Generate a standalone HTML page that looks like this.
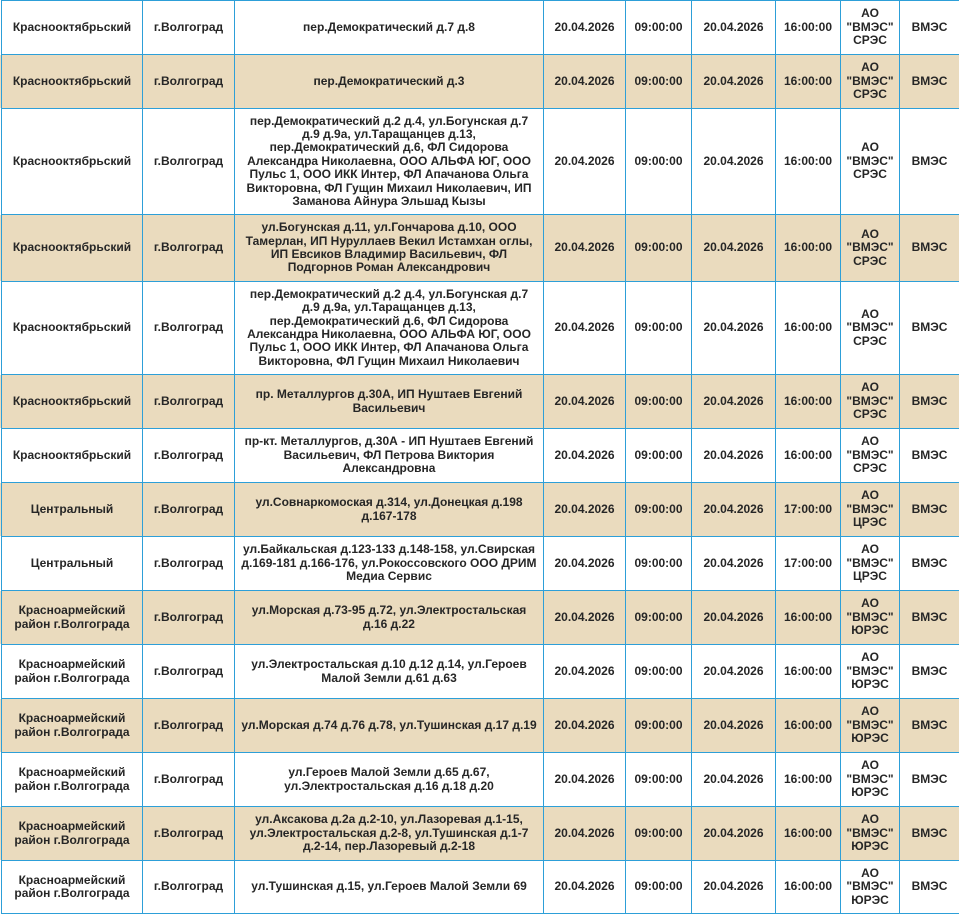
<!DOCTYPE html>
<html lang="ru">
<head>
<meta charset="utf-8">
<style>
html,body{margin:0;padding:0;}
body{width:959px;height:914px;overflow:hidden;background:#fff;position:relative;
font-family:"Liberation Sans","Noto Sans CJK SC",sans-serif;font-size:12px;font-weight:bold;color:#262626;}
.r{position:absolute;left:0;width:959px;}
.w{background:#fff;}
.b{background:#eadbbe;}
.c{position:absolute;top:0;height:100%;display:flex;align-items:center;justify-content:center;text-align:center;line-height:13.4px;white-space:nowrap;}
.c1{left:2px;width:140px}
.c2{left:143px;width:91px}
.c3{left:235px;width:308px}
.c4{left:544px;width:81px}
.c5{left:626px;width:65px}
.c6{left:692px;width:83px}
.c7{left:776px;width:64px}
.c8{left:841px;width:58px}
.c9{left:900px;width:59px}
.h{position:absolute;left:1px;width:958px;height:1px;background:#2d9fd8;}
.v{position:absolute;top:0;width:1px;height:914px;background:#2d9fd8;}
</style>
</head>
<body>

<div class="r w" style="top:1px;height:53px">
<div class="c c1">Краснооктябрьский</div><div class="c c2">г.Волгоград</div>
<div class="c c3">пер.Демократический д.7 д.8</div>
<div class="c c4">20.04.2026</div><div class="c c5">09:00:00</div><div class="c c6">20.04.2026</div><div class="c c7">16:00:00</div>
<div class="c c8">АО<br>"ВМЭС"<br>СРЭС</div><div class="c c9">ВМЭС</div>
</div>

<div class="r b" style="top:55px;height:53px">
<div class="c c1">Краснооктябрьский</div><div class="c c2">г.Волгоград</div>
<div class="c c3">пер.Демократический д.3</div>
<div class="c c4">20.04.2026</div><div class="c c5">09:00:00</div><div class="c c6">20.04.2026</div><div class="c c7">16:00:00</div>
<div class="c c8">АО<br>"ВМЭС"<br>СРЭС</div><div class="c c9">ВМЭС</div>
</div>

<div class="r w" style="top:109px;height:105px">
<div class="c c1">Краснооктябрьский</div><div class="c c2">г.Волгоград</div>
<div class="c c3">пер.Демократический д.2 д.4, ул.Богунская д.7<br>д.9 д.9а, ул.Таращанцев д.13,<br>пер.Демократический д.6, ФЛ Сидорова<br>Александра Николаевна, ООО АЛЬФА ЮГ, ООО<br>Пульс 1, ООО ИКК Интер, ФЛ Апачанова Ольга<br>Викторовна, ФЛ Гущин Михаил Николаевич, ИП<br>Заманова Айнура Эльшад Кызы</div>
<div class="c c4">20.04.2026</div><div class="c c5">09:00:00</div><div class="c c6">20.04.2026</div><div class="c c7">16:00:00</div>
<div class="c c8">АО<br>"ВМЭС"<br>СРЭС</div><div class="c c9">ВМЭС</div>
</div>

<div class="r b" style="top:215px;height:66px">
<div class="c c1">Краснооктябрьский</div><div class="c c2">г.Волгоград</div>
<div class="c c3">ул.Богунская д.11, ул.Гончарова д.10, ООО<br>Тамерлан, ИП Нуруллаев Векил Истамхан оглы,<br>ИП Евсиков Владимир Васильевич, ФЛ<br>Подгорнов Роман Александрович</div>
<div class="c c4">20.04.2026</div><div class="c c5">09:00:00</div><div class="c c6">20.04.2026</div><div class="c c7">16:00:00</div>
<div class="c c8">АО<br>"ВМЭС"<br>СРЭС</div><div class="c c9">ВМЭС</div>
</div>

<div class="r w" style="top:282px;height:92px">
<div class="c c1">Краснооктябрьский</div><div class="c c2">г.Волгоград</div>
<div class="c c3">пер.Демократический д.2 д.4, ул.Богунская д.7<br>д.9 д.9а, ул.Таращанцев д.13,<br>пер.Демократический д.6, ФЛ Сидорова<br>Александра Николаевна, ООО АЛЬФА ЮГ, ООО<br>Пульс 1, ООО ИКК Интер, ФЛ Апачанова Ольга<br>Викторовна, ФЛ Гущин Михаил Николаевич</div>
<div class="c c4">20.04.2026</div><div class="c c5">09:00:00</div><div class="c c6">20.04.2026</div><div class="c c7">16:00:00</div>
<div class="c c8">АО<br>"ВМЭС"<br>СРЭС</div><div class="c c9">ВМЭС</div>
</div>

<div class="r b" style="top:375px;height:53px">
<div class="c c1">Краснооктябрьский</div><div class="c c2">г.Волгоград</div>
<div class="c c3">пр. Металлургов д.30А, ИП Нуштаев Евгений<br>Васильевич</div>
<div class="c c4">20.04.2026</div><div class="c c5">09:00:00</div><div class="c c6">20.04.2026</div><div class="c c7">16:00:00</div>
<div class="c c8">АО<br>"ВМЭС"<br>СРЭС</div><div class="c c9">ВМЭС</div>
</div>

<div class="r w" style="top:429px;height:53px">
<div class="c c1">Краснооктябрьский</div><div class="c c2">г.Волгоград</div>
<div class="c c3">пр-кт. Металлургов, д.30А - ИП Нуштаев Евгений<br>Васильевич, ФЛ Петрова Виктория<br>Александровна</div>
<div class="c c4">20.04.2026</div><div class="c c5">09:00:00</div><div class="c c6">20.04.2026</div><div class="c c7">16:00:00</div>
<div class="c c8">АО<br>"ВМЭС"<br>СРЭС</div><div class="c c9">ВМЭС</div>
</div>

<div class="r b" style="top:483px;height:53px">
<div class="c c1">Центральный</div><div class="c c2">г.Волгоград</div>
<div class="c c3">ул.Совнаркомоская д.314, ул.Донецкая д.198<br>д.167-178</div>
<div class="c c4">20.04.2026</div><div class="c c5">09:00:00</div><div class="c c6">20.04.2026</div><div class="c c7">17:00:00</div>
<div class="c c8">АО<br>"ВМЭС"<br>ЦРЭС</div><div class="c c9">ВМЭС</div>
</div>

<div class="r w" style="top:537px;height:53px">
<div class="c c1">Центральный</div><div class="c c2">г.Волгоград</div>
<div class="c c3">ул.Байкальская д.123-133 д.148-158, ул.Свирская<br>д.169-181 д.166-176, ул.Рокоссовского ООО ДРИМ<br>Медиа Сервис</div>
<div class="c c4">20.04.2026</div><div class="c c5">09:00:00</div><div class="c c6">20.04.2026</div><div class="c c7">17:00:00</div>
<div class="c c8">АО<br>"ВМЭС"<br>ЦРЭС</div><div class="c c9">ВМЭС</div>
</div>

<div class="r b" style="top:591px;height:53px">
<div class="c c1">Красноармейский<br>район г.Волгограда</div><div class="c c2">г.Волгоград</div>
<div class="c c3">ул.Морская д.73-95 д.72, ул.Электростальская<br>д.16 д.22</div>
<div class="c c4">20.04.2026</div><div class="c c5">09:00:00</div><div class="c c6">20.04.2026</div><div class="c c7">16:00:00</div>
<div class="c c8">АО<br>"ВМЭС"<br>ЮРЭС</div><div class="c c9">ВМЭС</div>
</div>

<div class="r w" style="top:645px;height:53px">
<div class="c c1">Красноармейский<br>район г.Волгограда</div><div class="c c2">г.Волгоград</div>
<div class="c c3">ул.Электростальская д.10 д.12 д.14, ул.Героев<br>Малой Земли д.61 д.63</div>
<div class="c c4">20.04.2026</div><div class="c c5">09:00:00</div><div class="c c6">20.04.2026</div><div class="c c7">16:00:00</div>
<div class="c c8">АО<br>"ВМЭС"<br>ЮРЭС</div><div class="c c9">ВМЭС</div>
</div>

<div class="r b" style="top:699px;height:53px">
<div class="c c1">Красноармейский<br>район г.Волгограда</div><div class="c c2">г.Волгоград</div>
<div class="c c3">ул.Морская д.74 д.76 д.78, ул.Тушинская д.17 д.19</div>
<div class="c c4">20.04.2026</div><div class="c c5">09:00:00</div><div class="c c6">20.04.2026</div><div class="c c7">16:00:00</div>
<div class="c c8">АО<br>"ВМЭС"<br>ЮРЭС</div><div class="c c9">ВМЭС</div>
</div>

<div class="r w" style="top:753px;height:53px">
<div class="c c1">Красноармейский<br>район г.Волгограда</div><div class="c c2">г.Волгоград</div>
<div class="c c3">ул.Героев Малой Земли д.65 д.67,<br>ул.Электростальская д.16 д.18 д.20</div>
<div class="c c4">20.04.2026</div><div class="c c5">09:00:00</div><div class="c c6">20.04.2026</div><div class="c c7">16:00:00</div>
<div class="c c8">АО<br>"ВМЭС"<br>ЮРЭС</div><div class="c c9">ВМЭС</div>
</div>

<div class="r b" style="top:807px;height:53px">
<div class="c c1">Красноармейский<br>район г.Волгограда</div><div class="c c2">г.Волгоград</div>
<div class="c c3">ул.Аксакова д.2а д.2-10, ул.Лазоревая д.1-15,<br>ул.Электростальская д.2-8, ул.Тушинская д.1-7<br>д.2-14, пер.Лазоревый д.2-18</div>
<div class="c c4">20.04.2026</div><div class="c c5">09:00:00</div><div class="c c6">20.04.2026</div><div class="c c7">16:00:00</div>
<div class="c c8">АО<br>"ВМЭС"<br>ЮРЭС</div><div class="c c9">ВМЭС</div>
</div>

<div class="r w" style="top:861px;height:52px">
<div class="c c1">Красноармейский<br>район г.Волгограда</div><div class="c c2">г.Волгоград</div>
<div class="c c3">ул.Тушинская д.15, ул.Героев Малой Земли 69</div>
<div class="c c4">20.04.2026</div><div class="c c5">09:00:00</div><div class="c c6">20.04.2026</div><div class="c c7">16:00:00</div>
<div class="c c8">АО<br>"ВМЭС"<br>ЮРЭС</div><div class="c c9">ВМЭС</div>
</div>

<!-- horizontal lines -->
<div class="h" style="top:0px"></div>
<div class="h" style="top:54px"></div>
<div class="h" style="top:108px"></div>
<div class="h" style="top:214px"></div>
<div class="h" style="top:281px"></div>
<div class="h" style="top:374px"></div>
<div class="h" style="top:428px"></div>
<div class="h" style="top:482px"></div>
<div class="h" style="top:536px"></div>
<div class="h" style="top:590px"></div>
<div class="h" style="top:644px"></div>
<div class="h" style="top:698px"></div>
<div class="h" style="top:752px"></div>
<div class="h" style="top:806px"></div>
<div class="h" style="top:860px"></div>
<div class="h" style="top:913px"></div>

<!-- vertical lines -->
<div class="v" style="left:1px"></div>
<div class="v" style="left:142px"></div>
<div class="v" style="left:234px"></div>
<div class="v" style="left:543px"></div>
<div class="v" style="left:625px"></div>
<div class="v" style="left:691px"></div>
<div class="v" style="left:775px"></div>
<div class="v" style="left:840px"></div>
<div class="v" style="left:899px"></div>

</body>
</html>
